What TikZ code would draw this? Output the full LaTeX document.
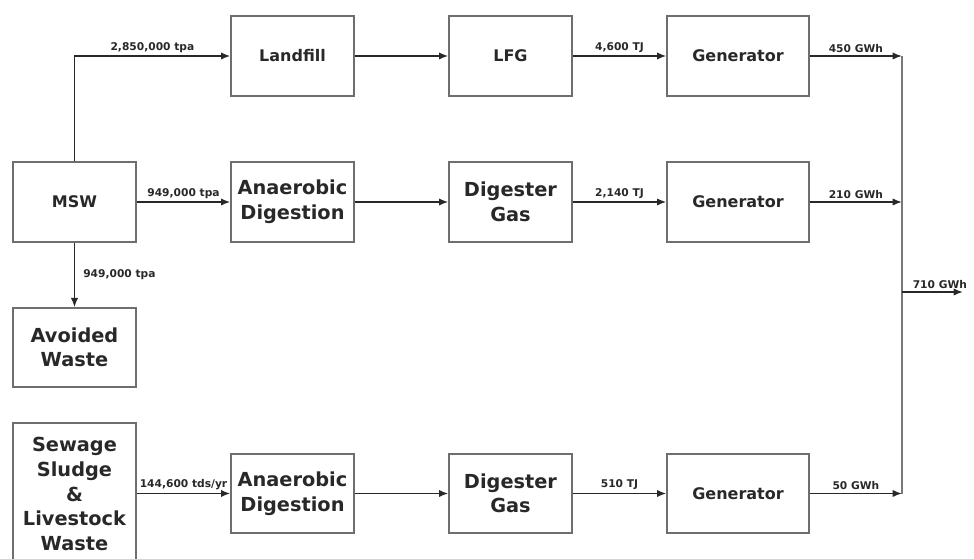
\documentclass[tikz,border=0pt]{standalone}
\usepackage{fontspec}
\setmainfont{DejaVu Sans}
\usetikzlibrary{arrows.meta}
\definecolor{boxgray}{RGB}{110,110,110}
\definecolor{busgray}{RGB}{120,120,120}
\definecolor{inkgray}{RGB}{40,40,40}

\begin{document}
\begin{tikzpicture}[x=0.75pt,y=-0.75pt]
\tikzstyle{block} = [rectangle, draw=boxgray, line width=1pt, text=inkgray, font=\bfseries\fontsize{12}{15}\selectfont, align=center, minimum width=92.25pt, minimum height=60pt, inner sep=2pt]
\tikzstyle{tall} = [font=\bfseries\fontsize{14.5}{18.4}\selectfont]
\tikzstyle{genblock} = [block, minimum width=106.5pt]
\tikzstyle{arrow} = [draw=inkgray, line width=1.2pt, -{Latex[length=7pt,width=5.5pt]}]
\tikzstyle{lbl} = [text=inkgray, font=\bfseries\fontsize{8}{10}\selectfont, inner sep=2pt]
\useasboundingbox (0,0) rectangle (974,559);

\node (landfill) [block] at (292.5,56) {Landfill};
\node (lfg) [block] at (510.5,56) {LFG};
\node (gen1) [genblock] at (738,56) {Generator};
\node (msw) [block] at (74.5,202) {MSW};
\node (ad1) [block, tall] at (292.5,202) {Anaerobic\\Digestion};
\node (dg1) [block, tall] at (510.5,202) {Digester\\Gas};
\node (gen2) [genblock] at (738,202) {Generator};
\node (avoided) [block, tall, minimum height=59.25pt] at (74.5,347.5) {Avoided\\Waste};
\node (sewage) [block, tall, minimum height=106.5pt] at (74.5,494) {Sewage\\Sludge\\\&\\Livestock\\Waste};
\node (ad2) [block, tall, minimum height=59.25pt] at (292.5,493.5) {Anaerobic\\Digestion};
\node (dg2) [block, tall, minimum height=59.25pt] at (510.5,493.5) {Digester\\Gas};
\node (gen3) [genblock, minimum height=59.25pt] at (738,493.5) {Generator};

\coordinate (bus1) at (902,56);
\coordinate (bus2) at (902,202);
\coordinate (bus3) at (902,493.5);
\coordinate (busout) at (902,292);
\coordinate (total) at (963,292);

\draw [arrow] (msw.north) |- node[lbl, above, pos=0.75] {2,850,000 tpa} (landfill.west);
\draw [arrow] (msw) -- node[lbl, above] {949,000 tpa} (ad1);
\draw [arrow] (msw) -- node[lbl, right, xshift=4pt] {949,000 tpa} (avoided);
\draw [arrow] (sewage.east |- ad2) -- node[lbl, above] {144,600 tds/yr} (ad2);
\draw [arrow] (landfill) -- (lfg);
\draw [arrow] (ad1) -- (dg1);
\draw [arrow] (ad2) -- (dg2);
\draw [arrow] (lfg) -- node[lbl, above] {4,600 TJ} (gen1);
\draw [arrow] (dg1) -- node[lbl, above] {2,140 TJ} (gen2);
\draw [arrow] (dg2) -- node[lbl, above] {510 TJ} (gen3);
\draw [arrow] (gen1) -- node[lbl, above] {450 GWh} (bus1);
\draw [arrow] (gen2) -- node[lbl, above] {210 GWh} (bus2);
\draw [arrow] (gen3) -- node[lbl, above] {50 GWh} (bus3);
\draw [busgray, line width=1.6pt] (bus1) -- (bus3);
\draw [arrow] (busout) -- node[lbl, above, anchor=south west, pos=0.12] {710 GWh} (total);

\end{tikzpicture}
\end{document}
